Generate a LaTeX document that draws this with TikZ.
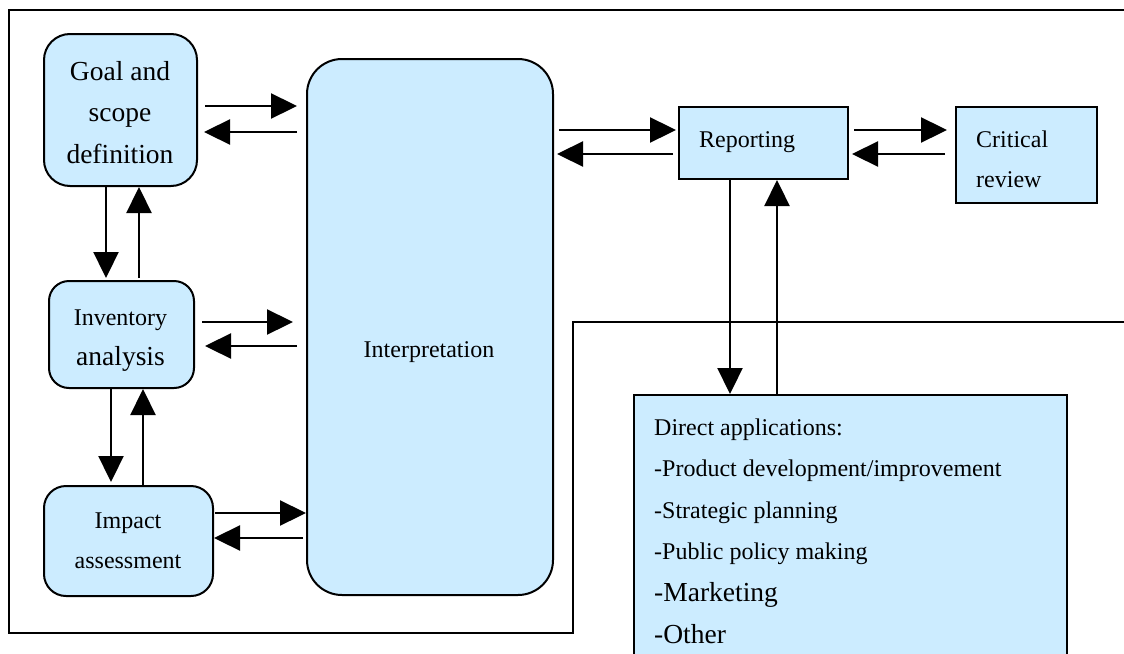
\documentclass[tikz,border=0pt]{standalone}
\usepackage{fontspec}
\setmainfont{Liberation Serif}
\usetikzlibrary{arrows.meta}
\definecolor{boxfill}{RGB}{204,236,255}
\newcommand\lblfont{\fontsize{24}{40}\selectfont}
\newcommand\bigfont{\fontsize{27.5}{41.5}\selectfont}
\newcommand\listfont{\fontsize{24}{41.6}\selectfont}
\begin{document}
\begin{tikzpicture}[x=1pt,y=-1pt,
  box/.style={draw=black, line width=2pt, fill=boxfill, inner sep=0pt, anchor=north west},
  txt/.style={inner sep=0pt, anchor=base},
  txtl/.style={inner sep=0pt, anchor=base west},
  arr/.style={line width=2.3pt, -{Triangle[length=26pt,width=25pt]}},
  frame/.style={line width=2pt}]
\useasboundingbox (0,0) rectangle (1124,653);
\fill[white] (0,0) rectangle (1124,653);
\clip (0,0) rectangle (1124,653);

% outer frame
\draw[frame] (1130,10) -- (9,10) -- (9,633) -- (573,633) -- (573,322) -- (1130,322);

% stage boxes
\node[box, rounded corners=26pt, minimum width=153pt, minimum height=152pt] (goal) at (43,33) {};
\node[box, rounded corners=20pt, minimum width=145pt, minimum height=107pt] (inv) at (48,280) {};
\node[box, rounded corners=22pt, minimum width=169pt, minimum height=110pt] (impact) at (43,485) {};
\node[box, rounded corners=35pt, minimum width=246pt, minimum height=536pt] (interp) at (306,58) {};
\node[box, minimum width=169pt, minimum height=72pt] (report) at (678,106) {};
\node[box, minimum width=141pt, minimum height=96pt] (critical) at (955,106) {};
\node[box, minimum width=433pt, minimum height=300pt] (direct) at (633,394) {};

% labels
\node[txt] (goaltxt) at (120,80) {\bigfont\begin{tabular}[t]{@{}c@{}}Goal and\\scope\\definition\end{tabular}};
\node[txt] (invtxt) at (120.5,325) {\lblfont\begin{tabular}[t]{@{}c@{}}Inventory\\{\bigfont analysis}\end{tabular}};
\node[txt] (imptxt) at (128,528) {\lblfont\begin{tabular}[t]{@{}c@{}}Impact\\assessment\end{tabular}};
\node[txt] (inttxt) at (429,357) {\lblfont Interpretation};
\node[txtl] (reptxt) at (699,147) {\lblfont Reporting};
\node[txtl] (crittxt) at (976,147) {\lblfont\begin{tabular}[t]{@{}l@{}}Critical\\review\end{tabular}};
\node[txtl] (dirtxt) at (654,435) {\listfont\begin{tabular}[t]{@{}l@{}}Direct applications:\\
-Product development/improvement\\
-Strategic planning\\
-Public policy making\\
{\bigfont -Marketing}\\
{\bigfont -Other}\end{tabular}};

% connectors between the left stages and interpretation
\draw[arr, shorten <=7pt, shorten >=9pt] (goal.east |- 0,106) -- (interp.west |- 0,106);
\draw[arr, shorten <=9pt, shorten >=6pt] (interp.west |- 0,132) -- (goal.east |- 0,132);
\draw[arr, shorten <=7pt, shorten >=13pt] (inv.east |- 0,322) -- (interp.west |- 0,322);
\draw[arr, shorten <=9pt, shorten >=10pt] (interp.west |- 0,346) -- (inv.east |- 0,346);
\draw[arr, shorten <=1pt] (impact.east |- 0,513) -- (interp.west |- 0,513);
\draw[arr, shorten <=3pt] (interp.west |- 0,538) -- (impact.east |- 0,538);

% vertical connectors on the left
\draw[arr, shorten >=2pt] (goal.south -| 106,0) -- (inv.north -| 106,0);
\draw[arr, shorten <=2pt] (inv.north -| 139,0) -- (goal.south -| 139,0);
\draw[arr, shorten >=3pt] (inv.south -| 111,0) -- (impact.north -| 111,0);
\draw[arr] (impact.north -| 143,0) -- (inv.south -| 143,0);

% connectors on the right
\draw[arr, shorten <=5pt, shorten >=2pt] (interp.east |- 0,130) -- (report.west |- 0,130);
\draw[arr, shorten <=5pt, shorten >=3pt] (report.west |- 0,154) -- (interp.east |- 0,154);
\draw[arr, shorten <=5pt, shorten >=8pt] (report.east |- 0,130) -- (critical.west |- 0,130);
\draw[arr, shorten <=10pt, shorten >=3pt] (critical.west |- 0,154) -- (report.east |- 0,154);
\draw[arr] (report.south -| 730,0) -- (direct.north -| 730,0);
\draw[arr] (direct.north -| 777,0) -- (report.south -| 777,0);
\end{tikzpicture}
\end{document}
